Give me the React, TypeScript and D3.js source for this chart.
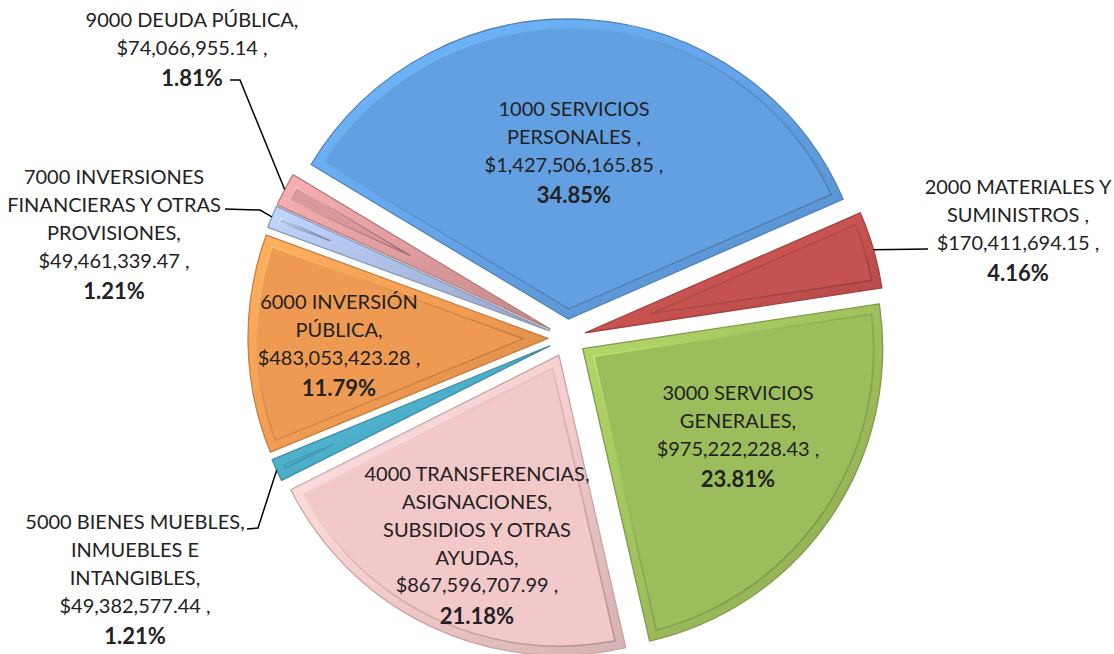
import React from 'react';
import * as d3 from 'd3';

// ---- data ----
const categoryLines: string[][] = [
  ['1000 SERVICIOS', 'PERSONALES ,'],
  ['2000 MATERIALES Y', 'SUMINISTROS ,'],
  ['3000 SERVICIOS', 'GENERALES,'],
  ['4000 TRANSFERENCIAS,', 'ASIGNACIONES,', 'SUBSIDIOS Y OTRAS', 'AYUDAS,'],
  ['5000 BIENES MUEBLES,', 'INMUEBLES E', 'INTANGIBLES,'],
  ['6000 INVERSIÓN', 'PÚBLICA,'],
  ['7000 INVERSIONES', 'FINANCIERAS Y OTRAS', 'PROVISIONES,'],
  ['9000 DEUDA PÚBLICA,'],
];
const amounts: number[] = [
  1427506165.85, 170411694.15, 975222228.43, 867596707.99,
  49382577.44, 483053423.28, 49461339.47, 74066955.14,
];
const sliceColors: string[] = [
  '#62A0E2', '#C4524F', '#9CBD5B', '#F2C8C8',
  '#4BACC6', '#EE9A52', '#A7BADF', '#D9999A',
];

// ---- layout (positions of labels; not data) ----
const labelLayout = [
  { x: 574, y: 109 },
  { x: 1018, y: 187 },
  { x: 738, y: 393 },
  { x: 477, y: 474 },
  { x: 135, y: 522 },
  { x: 339, y: 302 },
  { x: 114, y: 177 },
  { x: 192, y: 20 },
];
// leader line bends (after the slice edge point), in order towards the label
const leaderBends: ([number, number][] | null)[] = [
  null,
  [[928, 249]],
  null,
  null,
  [[258, 528], [247, 529]],
  null,
  [[260, 210], [225, 209]],
  [[240, 80], [230, 80]],
];

const W = 1114, H = 654;
const CX = 567, CY = 338, R = 300, EXPLODE = 19, BEVEL = 9;
const START = (-59 * Math.PI) / 180;
const LINE = 27.8, BOLD_LINE = 30.5;
const FONT = 'Lato, "Open Sans", sans-serif';

const pt = (r: number, a: number): [number, number] => [r * Math.sin(a), -r * Math.cos(a)];

function insetPath(a0: number, a1: number, r0: number, t: number): string | null {
  const half = (a1 - a0) / 2;
  const mid = (a0 + a1) / 2;
  const apexDist = half < Math.PI / 2 ? t / Math.sin(half) : t;
  const r = r0 - t;
  const d = Math.asin(t / r);
  if (a1 - a0 - 2 * d <= 0) return null;
  const apex = pt(apexDist, mid);
  const p0 = pt(r, a0 + d);
  const p1 = pt(r, a1 - d);
  const large = a1 - a0 - 2 * d > Math.PI ? 1 : 0;
  return `M${apex[0]},${apex[1]}L${p0[0]},${p0[1]}A${r},${r} 0 ${large} 1 ${p1[0]},${p1[1]}Z`;
}

export default function App() {
  const total = d3.sum(amounts);
  const pie = d3.pie<number>().sort(null).value((d) => d).startAngle(START).endAngle(START + 2 * Math.PI);
  const arcs = pie(amounts);
  const arc = d3.arc<d3.PieArcDatum<number>>().innerRadius(0).outerRadius(R);
  const fmtMoney = d3.format('$,.2f');
  const fmtPct = d3.format('.2%');

  return (
    <svg width={W} height={H} style={{ position: 'absolute', left: 0, top: 0, background: '#fff' }}>
      <defs>
        {arcs.map((a, i) => {
          const c = d3.color(sliceColors[i])!;
          return (
            <React.Fragment key={i}>
              <linearGradient id={`band${i}`} x1="0" y1="0" x2="1" y2="1">
                <stop offset="0" stopColor={c.brighter(0.4).formatHex()} />
                <stop offset="0.5" stopColor={c.brighter(0.05).formatHex()} />
                <stop offset="1" stopColor={c.darker(0.35).formatHex()} />
              </linearGradient>
              <linearGradient id={`edge${i}`} x1="0" y1="0" x2="1" y2="1">
                <stop offset="0" stopColor={c.brighter(0.7).formatHex()} />
                <stop offset="0.45" stopColor={c.darker(0.3).formatHex()} />
                <stop offset="1" stopColor={c.darker(0.9).formatHex()} />
              </linearGradient>
            </React.Fragment>
          );
        })}
      </defs>
      <g transform={`translate(${CX},${CY})`}>
        {arcs.map((a, i) => {
          const mid = (a.startAngle + a.endAngle) / 2;
          const [dx, dy] = pt(EXPLODE, mid);
          const c = d3.color(sliceColors[i])!;
          const inner = insetPath(a.startAngle, a.endAngle, R, BEVEL);
          return (
            <g key={i} transform={`translate(${dx},${dy})`}>
              <path d={arc(a)!} fill={`url(#band${i})`} stroke={c.darker(0.55).formatHex()} strokeWidth={1.3} strokeLinejoin="round" />
              {inner && (
                <path d={inner} fill={sliceColors[i]} stroke={`url(#edge${i})`} strokeWidth={1.5} strokeLinejoin="round" />
              )}
            </g>
          );
        })}
      </g>
      {arcs.map((a, i) => {
        const bends = leaderBends[i];
        if (!bends) return null;
        const mid = (a.startAngle + a.endAngle) / 2;
        const [dx, dy] = pt(EXPLODE, mid);
        const [ex, ey] = pt(R, mid);
        const start: [number, number] = [CX + dx + ex, CY + dy + ey];
        const line = d3.line()([start, ...bends]);
        return <path key={`l${i}`} d={line!} fill="none" stroke="#000" strokeWidth={1.5} />;
      })}
      {arcs.map((a, i) => {
        const L = labelLayout[i];
        const lines = [...categoryLines[i], fmtMoney(amounts[i]) + ' ,'];
        const pctY = L.y + (lines.length - 1) * LINE + BOLD_LINE;
        return (
          <g key={`t${i}`} fontFamily={FONT} fill="#222" textAnchor="middle">
            {lines.map((s, j) => (
              <text key={j} x={L.x} y={L.y + j * LINE + 7.2} fontSize={20}>
                {s}
              </text>
            ))}
            <text x={L.x} y={pctY + 7.9} fontSize={22} fontWeight="bold">
              {fmtPct(amounts[i] / total)}
            </text>
          </g>
        );
      })}
    </svg>
  );
}
